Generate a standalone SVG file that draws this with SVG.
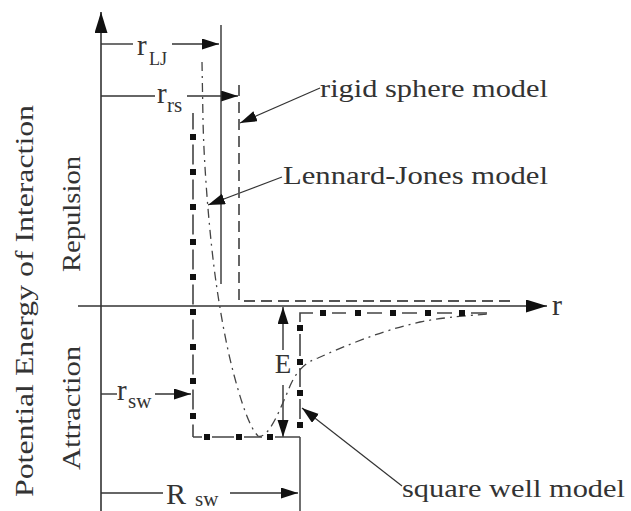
<svg xmlns="http://www.w3.org/2000/svg" width="631" height="511" viewBox="0 0 631 511" font-family="'Liberation Serif','Times New Roman',serif">
<style>
 .ax{stroke:#333;stroke-width:1.6;fill:none}
 .dim{stroke:#333;stroke-width:1.4;fill:none}
 .lead{stroke:#333;stroke-width:1.2;fill:none}
 .rs{stroke:#555;stroke-width:1.8;fill:none;stroke-dasharray:11 6}
 .lj{stroke:#444;stroke-width:1.3;fill:none;stroke-dasharray:9 5 2 5}
 .sw{stroke:#444;stroke-width:1.6;fill:none}
 .swl{stroke:#444;stroke-width:1.6;fill:none;stroke-dasharray:20 15;stroke-dashoffset:3.5}
 .sq{fill:#111}
 text{font-family:"Liberation Serif","Times New Roman",serif;fill:#333}
</style>
<defs>
 <marker id="a" markerUnits="userSpaceOnUse" markerWidth="18" markerHeight="12" refX="17" refY="5.5" orient="auto"><path d="M0,0 L17,5.5 L0,11 z" fill="#111"/></marker>
 <marker id="ab" markerUnits="userSpaceOnUse" markerWidth="22" markerHeight="14" refX="21" refY="6.5" orient="auto"><path d="M0,0 L21,6.5 L0,13 z" fill="#111"/></marker>
</defs>

<g id="connectors">
 <line class="ax" x1="101" y1="511" x2="101" y2="12" marker-end="url(#ab)"/>
 <line class="ax" x1="78" y1="306" x2="547" y2="306" marker-end="url(#ab)"/>
 <line class="dim" x1="101" y1="44" x2="133" y2="44"/>
 <line class="dim" x1="172" y1="44" x2="219" y2="44" marker-end="url(#a)"/>
 <line class="dim" x1="101" y1="96" x2="155" y2="96"/>
 <line class="dim" x1="187" y1="96" x2="238" y2="96" marker-end="url(#a)"/>
 <line class="dim" x1="101" y1="394" x2="117" y2="394"/>
 <line class="dim" x1="155" y1="394" x2="191" y2="394" marker-end="url(#a)"/>
 <line class="dim" x1="101" y1="493" x2="163" y2="493"/>
 <line class="dim" x1="230" y1="493" x2="298" y2="493" marker-end="url(#a)"/>
 <line class="dim" x1="283" y1="350" x2="283" y2="307" marker-end="url(#a)"/>
 <line class="dim" x1="283" y1="385" x2="283" y2="437" marker-end="url(#a)"/>
 <line class="dim" x1="221" y1="25" x2="221" y2="284"/>
 <line class="dim" x1="300" y1="437" x2="300" y2="511"/>
 <line class="lead" x1="320" y1="88" x2="240" y2="123" marker-end="url(#a)"/>
 <line class="lead" x1="282" y1="177" x2="208" y2="205" marker-end="url(#a)"/>
 <line class="lead" x1="402" y1="486" x2="302" y2="408" marker-end="url(#a)"/>
</g>

<g id="rigid-sphere-curve">
 <path class="rs" d="M239,85 V301 H513"/>
</g>

<g id="lennard-jones-curve">
 <path class="lj" d="M202,62 L203,120 C204,170 210,240 216,282 C220,310 226,345 234,375 C242,405 250,428 258,436 C268,440 280,410 290,386 C296,372 305,362 318,358 C345,346 380,331 420,322 C440,318 460,316 490,314"/>
</g>

<g id="square-well-curve">
 <path class="swl" d="M193,113 V437"/>
 <path class="sw" d="M193,437H202 M212,437H234 M244,437H262 M275,437H300"/>
 <path class="sw" d="M300,419V399 M300,387V368 M300,356V334 M300,322V313H313 M332,313H346 M367,313H382 M402,313H417 M437,313H452 M471,313H487"/>
 <g class="sq">
  <rect x="190" y="134" width="6" height="6"/>
  <rect x="190" y="169" width="6" height="6"/>
  <rect x="190" y="204" width="6" height="6"/>
  <rect x="190" y="239" width="6" height="6"/>
  <rect x="190" y="274" width="6" height="6"/>
  <rect x="190" y="309" width="6" height="6"/>
  <rect x="190" y="344" width="6" height="6"/>
  <rect x="190" y="378" width="6" height="6"/>
  <rect x="190" y="413" width="6" height="6"/>
  <rect x="204" y="434" width="6" height="6"/>
  <rect x="236" y="434" width="6" height="6"/>
  <rect x="267" y="434" width="6" height="6"/>
  <rect x="297" y="422" width="6" height="6"/>
  <rect x="297" y="390" width="6" height="6"/>
  <rect x="297" y="359" width="6" height="6"/>
  <rect x="297" y="325" width="6" height="6"/>
  <rect x="320" y="310" width="6" height="6"/>
  <rect x="355" y="310" width="6" height="6"/>
  <rect x="390" y="310" width="6" height="6"/>
  <rect x="425" y="310" width="6" height="6"/>
  <rect x="459" y="310" width="6" height="6"/>
 </g>
</g>

<g id="label-axis-title"><text transform="translate(33,497) rotate(-90)" font-size="26" textLength="392" lengthAdjust="spacingAndGlyphs">Potential Energy of Interaction</text></g>
<g id="label-repulsion"><text transform="translate(80,272) rotate(-90)" font-size="25" textLength="116" lengthAdjust="spacingAndGlyphs">Repulsion</text></g>
<g id="label-attraction"><text transform="translate(80,470) rotate(-90)" font-size="25" textLength="124" lengthAdjust="spacingAndGlyphs">Attraction</text></g>
<g id="label-r"><text x="552" y="315" font-size="30">r</text></g>
<g id="label-rLJ"><text x="137" y="55" font-size="29">r</text><text x="149" y="65" font-size="18">LJ</text></g>
<g id="label-rrs"><text x="157" y="103" font-size="29">r</text><text x="167" y="112" font-size="21">rs</text></g>
<g id="label-rsw"><text x="117" y="400" font-size="29">r</text><text x="128" y="408" font-size="21">sw</text></g>
<g id="label-Rsw"><text x="166" y="504" font-size="30">R</text><text x="195" y="506" font-size="21">sw</text></g>
<g id="label-E"><text x="283" y="373" font-size="27" text-anchor="middle">E</text></g>
<g id="label-rigid"><text x="320" y="97" font-size="26" textLength="228" lengthAdjust="spacingAndGlyphs">rigid sphere model</text></g>
<g id="label-lj"><text x="283" y="184" font-size="26" textLength="265" lengthAdjust="spacingAndGlyphs">Lennard-Jones model</text></g>
<g id="label-sw"><text x="402" y="497" font-size="26" textLength="223" lengthAdjust="spacingAndGlyphs">square well model</text></g>
</svg>
